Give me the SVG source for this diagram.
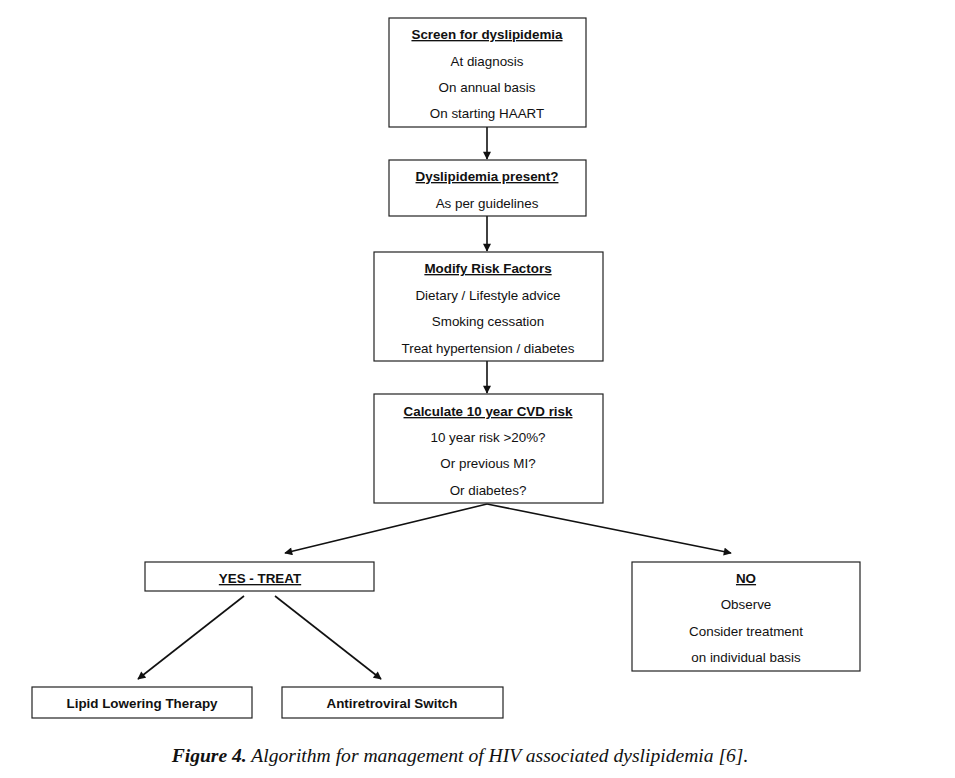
<svg xmlns="http://www.w3.org/2000/svg" width="955" height="778" viewBox="0 0 955 778">
<style>
.box{fill:#fff;stroke:#222;stroke-width:1.2}
.t{font-family:"Liberation Sans",Arial,sans-serif;font-size:13.4px;fill:#111;text-anchor:middle}
.h{font-weight:bold;text-decoration:underline}
.b{font-weight:bold}
.c{stroke:#111;stroke-width:1.6;fill:none}
.cap{font-family:"Liberation Serif","Times New Roman",serif;font-size:19.6px;font-style:italic;fill:#111;text-anchor:middle}
</style>
<defs>
<marker id="ah" viewBox="0 0 10 10" refX="9" refY="5" markerWidth="9" markerHeight="8" orient="auto" markerUnits="userSpaceOnUse"><path d="M0,0 L10,5 L0,10 z" fill="#111"/></marker>
</defs>
<rect width="955" height="778" fill="#fff"/>
<g id="connectors">
<line class="c" x1="487" y1="127" x2="487" y2="159" marker-end="url(#ah)"/>
<line class="c" x1="487" y1="216" x2="487" y2="251" marker-end="url(#ah)"/>
<line class="c" x1="487" y1="361" x2="487" y2="393" marker-end="url(#ah)"/>
<line class="c" x1="487" y1="504" x2="285" y2="553" marker-end="url(#ah)"/>
<line class="c" x1="487" y1="504" x2="731" y2="553" marker-end="url(#ah)"/>
<line class="c" x1="244" y1="596" x2="138" y2="679" marker-end="url(#ah)"/>
<line class="c" x1="275" y1="596" x2="381" y2="679" marker-end="url(#ah)"/>
</g>
<g id="screen">
<rect class="box" x="389" y="18" width="197" height="109"/>
<text class="t h" x="487" y="39">Screen for dyslipidemia</text>
<text class="t" x="487" y="66">At diagnosis</text>
<text class="t" x="487" y="92">On annual basis</text>
<text class="t" x="487" y="118">On starting HAART</text>
</g>
<g id="present">
<rect class="box" x="389" y="160" width="197" height="56"/>
<text class="t h" x="487" y="181">Dyslipidemia present?</text>
<text class="t" x="487" y="208">As per guidelines</text>
</g>
<g id="modify">
<rect class="box" x="374" y="252" width="229" height="109"/>
<text class="t h" x="488" y="273">Modify Risk Factors</text>
<text class="t" x="488" y="300">Dietary / Lifestyle advice</text>
<text class="t" x="488" y="326">Smoking cessation</text>
<text class="t" x="488" y="353">Treat hypertension / diabetes</text>
</g>
<g id="calculate">
<rect class="box" x="374" y="394" width="229" height="109"/>
<text class="t h" x="488" y="416">Calculate 10 year CVD risk</text>
<text class="t" x="488" y="442">10 year risk &gt;20%?</text>
<text class="t" x="488" y="468">Or previous MI?</text>
<text class="t" x="488" y="495">Or diabetes?</text>
</g>
<g id="yes">
<rect class="box" x="145" y="562" width="229" height="29"/>
<text class="t h" x="260" y="583">YES - TREAT</text>
</g>
<g id="no">
<rect class="box" x="632" y="562" width="228" height="109"/>
<text class="t h" x="746" y="583">NO</text>
<text class="t" x="746" y="609">Observe</text>
<text class="t" x="746" y="636">Consider treatment</text>
<text class="t" x="746" y="662">on individual basis</text>
</g>
<g id="lipid">
<rect class="box" x="32" y="687" width="220" height="31"/>
<text class="t b" x="142" y="708">Lipid Lowering Therapy</text>
</g>
<g id="arv">
<rect class="box" x="282" y="687" width="221" height="31"/>
<text class="t b" x="392" y="708">Antiretroviral Switch</text>
</g>
<text class="cap" x="460" y="762"><tspan font-weight="bold">Figure 4.</tspan> Algorithm for management of HIV associated dyslipidemia [6].</text>
</svg>
